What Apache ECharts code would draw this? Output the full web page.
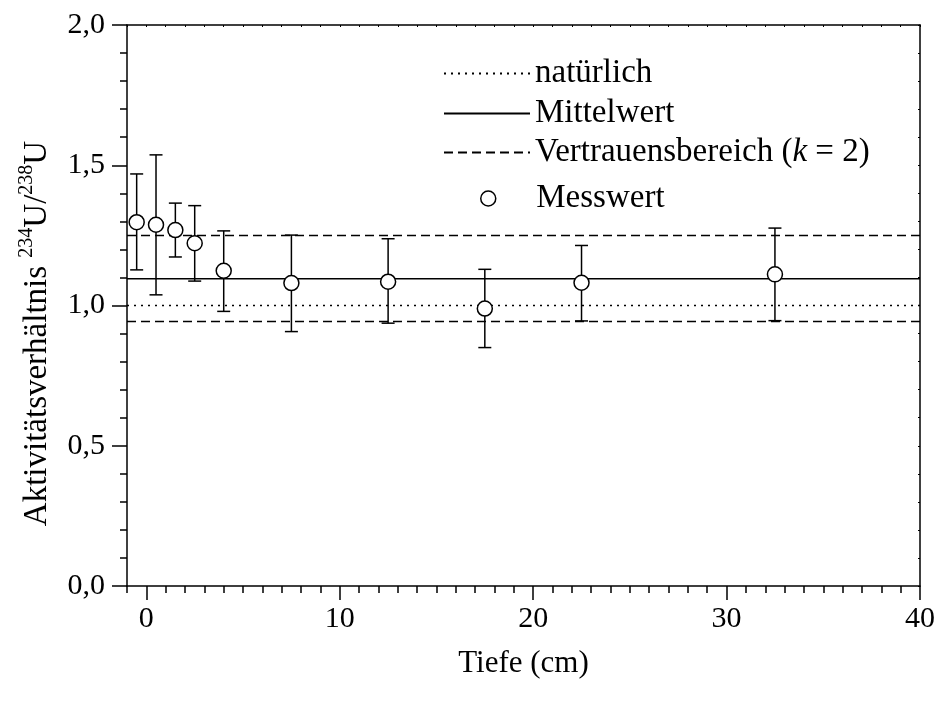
<!DOCTYPE html>
<html><head><meta charset="utf-8">
<script src="https://cdn.jsdelivr.net/npm/echarts@6/dist/echarts.min.js"></script>
<style>html,body{margin:0;padding:0;background:#fff}#c{width:938px;height:702px}</style>
</head><body><div id="c"></div>
<script>
// ---- data ----
const depth   = [-0.5, 0.5, 1.5, 2.5, 4, 7.5, 12.5, 17.5, 22.5, 32.5];
const ratio   = [1.297, 1.288, 1.269, 1.222, 1.124, 1.080, 1.085, 0.989, 1.081, 1.111];
const errLow  = [1.127, 1.038, 1.173, 1.087, 0.979, 0.907, 0.937, 0.850, 0.945, 0.946];
const errHigh = [1.469, 1.537, 1.365, 1.356, 1.266, 1.251, 1.238, 1.129, 1.214, 1.276];
const naturalRatio = 1.0;
const meanRatio = 1.095;
const confidenceBand = [0.943, 1.250];
const xRange = [-1, 40];
const yRange = [0, 2];
const xTickLabels = [0, 10, 20, 30, 40];
const yTickLabels = [0, 0.5, 1.0, 1.5, 2.0];

const FONT = '"Liberation Serif", "DejaVu Serif", serif';
const BLACK = '#000';
const LW = 1.5;

const xMinor = [];
for (let v = xRange[0]; v <= xRange[1]; v++) xMinor.push(v);

const chart = echarts.init(document.getElementById('c'), null, {renderer: 'canvas'});

const txt = {fontFamily: FONT, color: BLACK, fontSize: 30};
const lg = {fontFamily: FONT, color: BLACK, fontSize: 33};
const hline = (v) => [[xRange[0], v], [xRange[1], v]];

const legendBase = {
  left: 443, itemWidth: 86, itemHeight: 15, padding: 0, selectedMode: false,
  itemStyle: {opacity: 0},
  textStyle: Object.assign({lineHeight: 33, rich: {
    n: Object.assign({}, lg), i: Object.assign({fontStyle: 'italic'}, lg)
  }}, lg)
};

const option = {
  animation: false,
  backgroundColor: '#fff',
  grid: {left: 127, right: 18, top: 25, bottom: 116, containLabel: false},
  legend: [
    Object.assign({}, legendBase, {top: 57, data: ['natürlich']}),
    Object.assign({}, legendBase, {top: 97, data: ['Mittelwert']}),
    Object.assign({}, legendBase, {top: 136, data: ['Vertrauensbereich (k = 2)'],
      formatter: () => '{n|Vertrauensbereich (}{i|k}{n| = 2)}'}),
    Object.assign({}, legendBase, {top: 182, left: 480, icon: 'circle',
      itemStyle: {color: '#fff', borderColor: BLACK, borderWidth: LW, opacity: 1},
      data: ['Messwert']})
  ],
  xAxis: [
    {
      type: 'value', min: xRange[0], max: xRange[1], position: 'bottom',
      axisLine: {show: true, onZero: false, lineStyle: {color: BLACK, width: LW}},
      axisTick: {show: true, customValues: xTickLabels, length: 14, lineStyle: {color: BLACK, width: LW}},
      axisLabel: Object.assign({customValues: xTickLabels, margin: 18}, txt),
      splitLine: {show: false},
      name: 'Tiefe (cm)', nameLocation: 'middle', nameGap: 62,
      nameTextStyle: Object.assign({}, txt, {fontSize: 31})
    },
    {
      type: 'value', min: xRange[0], max: xRange[1], position: 'bottom',
      axisLine: {show: false, onZero: false},
      axisTick: {show: true, customValues: xMinor, length: 7, lineStyle: {color: BLACK, width: LW}},
      axisLabel: {show: false}, splitLine: {show: false}
    },
    {
      type: 'value', min: xRange[0], max: xRange[1], position: 'top',
      axisLine: {show: true, onZero: false, lineStyle: {color: BLACK, width: LW}},
      axisTick: {show: true, inside: true, customValues: xMinor, length: 2, lineStyle: {color: BLACK, width: 1}},
      axisLabel: {show: false}, splitLine: {show: false}
    }
  ],
  yAxis: [
    {
      type: 'value', min: yRange[0], max: yRange[1], interval: 0.5, position: 'left',
      axisLine: {show: true, onZero: false, lineStyle: {color: BLACK, width: LW}},
      axisTick: {show: true, length: 15, lineStyle: {color: BLACK, width: LW}},
      minorTick: {show: true, splitNumber: 5, length: 7, lineStyle: {color: BLACK, width: LW}},
      axisLabel: Object.assign({margin: 22, formatter: v => v.toFixed(1).replace('.', ',')}, txt),
      splitLine: {show: false}, minorSplitLine: {show: false},
      name: '{a|Aktivitätsverhältnis }{s|234}{a|U/}{s|238}{a|U}',
      nameLocation: 'middle', nameRotate: 90, nameGap: 73,
      nameTextStyle: Object.assign({padding: [0, 56, 0, 0], rich: {
        a: Object.assign({}, txt, {fontSize: 33, lineHeight: 37, verticalAlign: 'bottom'}),
        s: Object.assign({}, txt, {fontSize: 20, verticalAlign: 'top'})
      }}, txt, {fontSize: 33})
    },
    {
      type: 'value', min: yRange[0], max: yRange[1], interval: 0.1, position: 'right',
      axisLine: {show: true, onZero: false, lineStyle: {color: BLACK, width: LW}},
      axisTick: {show: true, inside: true, length: 2, lineStyle: {color: BLACK, width: 1}},
      axisLabel: {show: false}, splitLine: {show: false}
    }
  ],
  series: [
    {name: 'natürlich', type: 'line', data: hline(naturalRatio), symbol: 'none', silent: true,
     itemStyle: {color: BLACK}, lineStyle: {color: BLACK, width: LW, type: [2, 5]}, z: 2},
    {name: 'Mittelwert', type: 'line', data: hline(meanRatio), symbol: 'none', silent: true,
     itemStyle: {color: BLACK}, lineStyle: {color: BLACK, width: LW, type: 'solid'}, z: 2},
    {name: 'Vertrauensbereich (k = 2)', type: 'line', data: hline(confidenceBand[1]), symbol: 'none', silent: true,
     itemStyle: {color: BLACK}, lineStyle: {color: BLACK, width: LW, type: [9, 5]}, z: 2},
    {name: 'Vertrauensbereich (k = 2)', type: 'line', data: hline(confidenceBand[0]), symbol: 'none', silent: true,
     itemStyle: {color: BLACK}, lineStyle: {color: BLACK, width: LW, type: [9, 5]}, z: 2},
    {
      name: 'Fehler', type: 'custom', silent: true, z: 3,
      data: depth.map((d, i) => [d, errLow[i], errHigh[i]]),
      encode: {x: 0, y: [1, 2]},
      renderItem: (params, api) => {
        const x = api.value(0);
        const pLo = api.coord([x, api.value(1)]);
        const pHi = api.coord([x, api.value(2)]);
        const hw = 6.5;
        const style = {stroke: BLACK, lineWidth: LW};
        return {type: 'group', children: [
          {type: 'line', shape: {x1: pLo[0], y1: pLo[1], x2: pHi[0], y2: pHi[1]}, style},
          {type: 'line', shape: {x1: pLo[0] - hw, y1: pLo[1], x2: pLo[0] + hw, y2: pLo[1]}, style},
          {type: 'line', shape: {x1: pHi[0] - hw, y1: pHi[1], x2: pHi[0] + hw, y2: pHi[1]}, style}
        ]};
      }
    },
    {
      name: 'Messwert', type: 'scatter', z: 5, silent: true,
      data: depth.map((d, i) => [d, ratio[i]]),
      symbol: 'circle', symbolSize: 15,
      itemStyle: {color: '#fff', borderColor: BLACK, borderWidth: LW, opacity: 1}
    }
  ]
};
chart.setOption(option);
</script>
</body></html>
